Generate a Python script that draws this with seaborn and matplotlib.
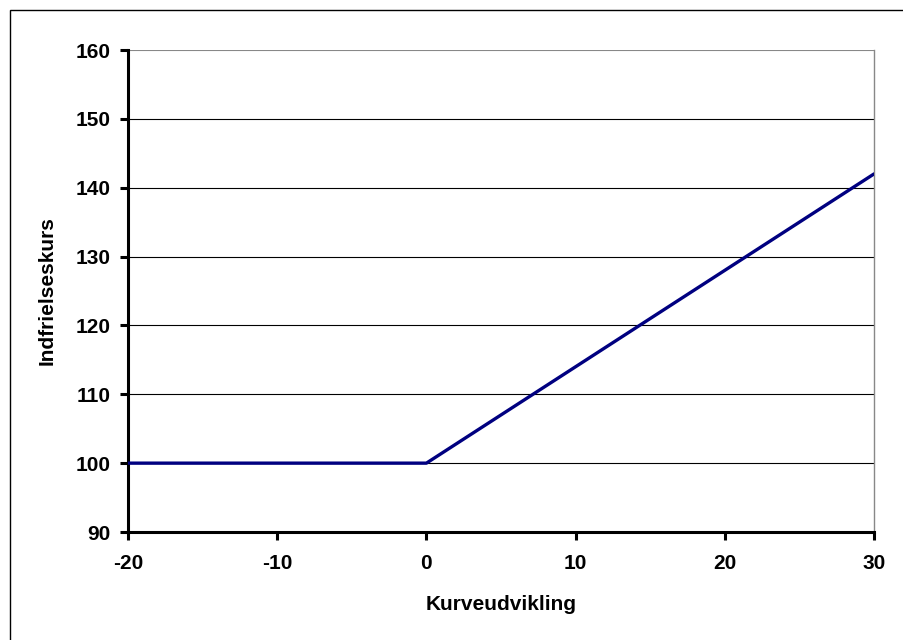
import matplotlib
matplotlib.use("Agg")
import matplotlib.pyplot as plt
import seaborn as sns
import pandas as pd
from matplotlib.patches import Rectangle

# Redemption price as a function of curve development
kurveudvikling = [-20, 0, 30]
indfrielseskurs = [100, 100, 142]
x_ticks = [-20, -10, 0, 10, 20, 30]
y_ticks = [90, 100, 110, 120, 130, 140, 150, 160]

df = pd.DataFrame({"Kurveudvikling": kurveudvikling, "Indfrielseskurs": indfrielseskurs})

sns.set_theme(style="white")
plt.rcParams["font.family"] = ["Liberation Sans", "DejaVu Sans"]
plt.rcParams["font.weight"] = "bold"
plt.rcParams["text.color"] = "black"
plt.rcParams["axes.labelcolor"] = "black"
plt.rcParams["xtick.color"] = "black"
plt.rcParams["ytick.color"] = "black"

fig = plt.figure(figsize=(9.04, 6.4), dpi=100)
ax = fig.add_axes([128 / 904, 1 - 532 / 640, (874 - 128) / 904, (532 - 50) / 640])

# Frame around the chart area (its right and bottom edges run off the canvas)
fig.patches.append(Rectangle((10 / 904, -0.1), 1.2, 630 / 640 + 0.1,
                             transform=fig.transFigure, fill=False,
                             edgecolor="black", linewidth=1.0, zorder=0))

for y in y_ticks[1:]:
    ax.axhline(y, color="black" if y < 160 else "#888888", linewidth=0.8, zorder=1)

sns.lineplot(data=df, x="Kurveudvikling", y="Indfrielseskurs", ax=ax,
             color="#000080", linewidth=2.4, zorder=3)

ax.set_xlim(-20, 30)
ax.set_ylim(90, 160)
ax.set_xticks(x_ticks)
ax.set_yticks(y_ticks)
ax.set_xticklabels([str(v) for v in x_ticks], fontsize=15, fontweight="bold", color="black")
ax.set_yticklabels([str(v) for v in y_ticks], fontsize=15, fontweight="bold", color="black")
ax.set_xlabel("Kurveudvikling", fontsize=15, fontweight="bold", color="black", labelpad=16)
ax.set_ylabel("Indfrielseskurs", fontsize=15, fontweight="bold", color="black", labelpad=14)

for side in ["left", "bottom"]:
    ax.spines[side].set_color("black")
    ax.spines[side].set_linewidth(2.2)
ax.spines["top"].set_visible(False)
ax.spines["right"].set_color("#888888")
ax.spines["right"].set_linewidth(1.0)
ax.tick_params(axis="both", direction="out", length=5.5, width=2.2, color="black",
               bottom=True, left=True)
ax.tick_params(axis="x", pad=10)
ax.tick_params(axis="y", pad=7)
ax.grid(False)

fig.savefig("out.png", dpi=100)
